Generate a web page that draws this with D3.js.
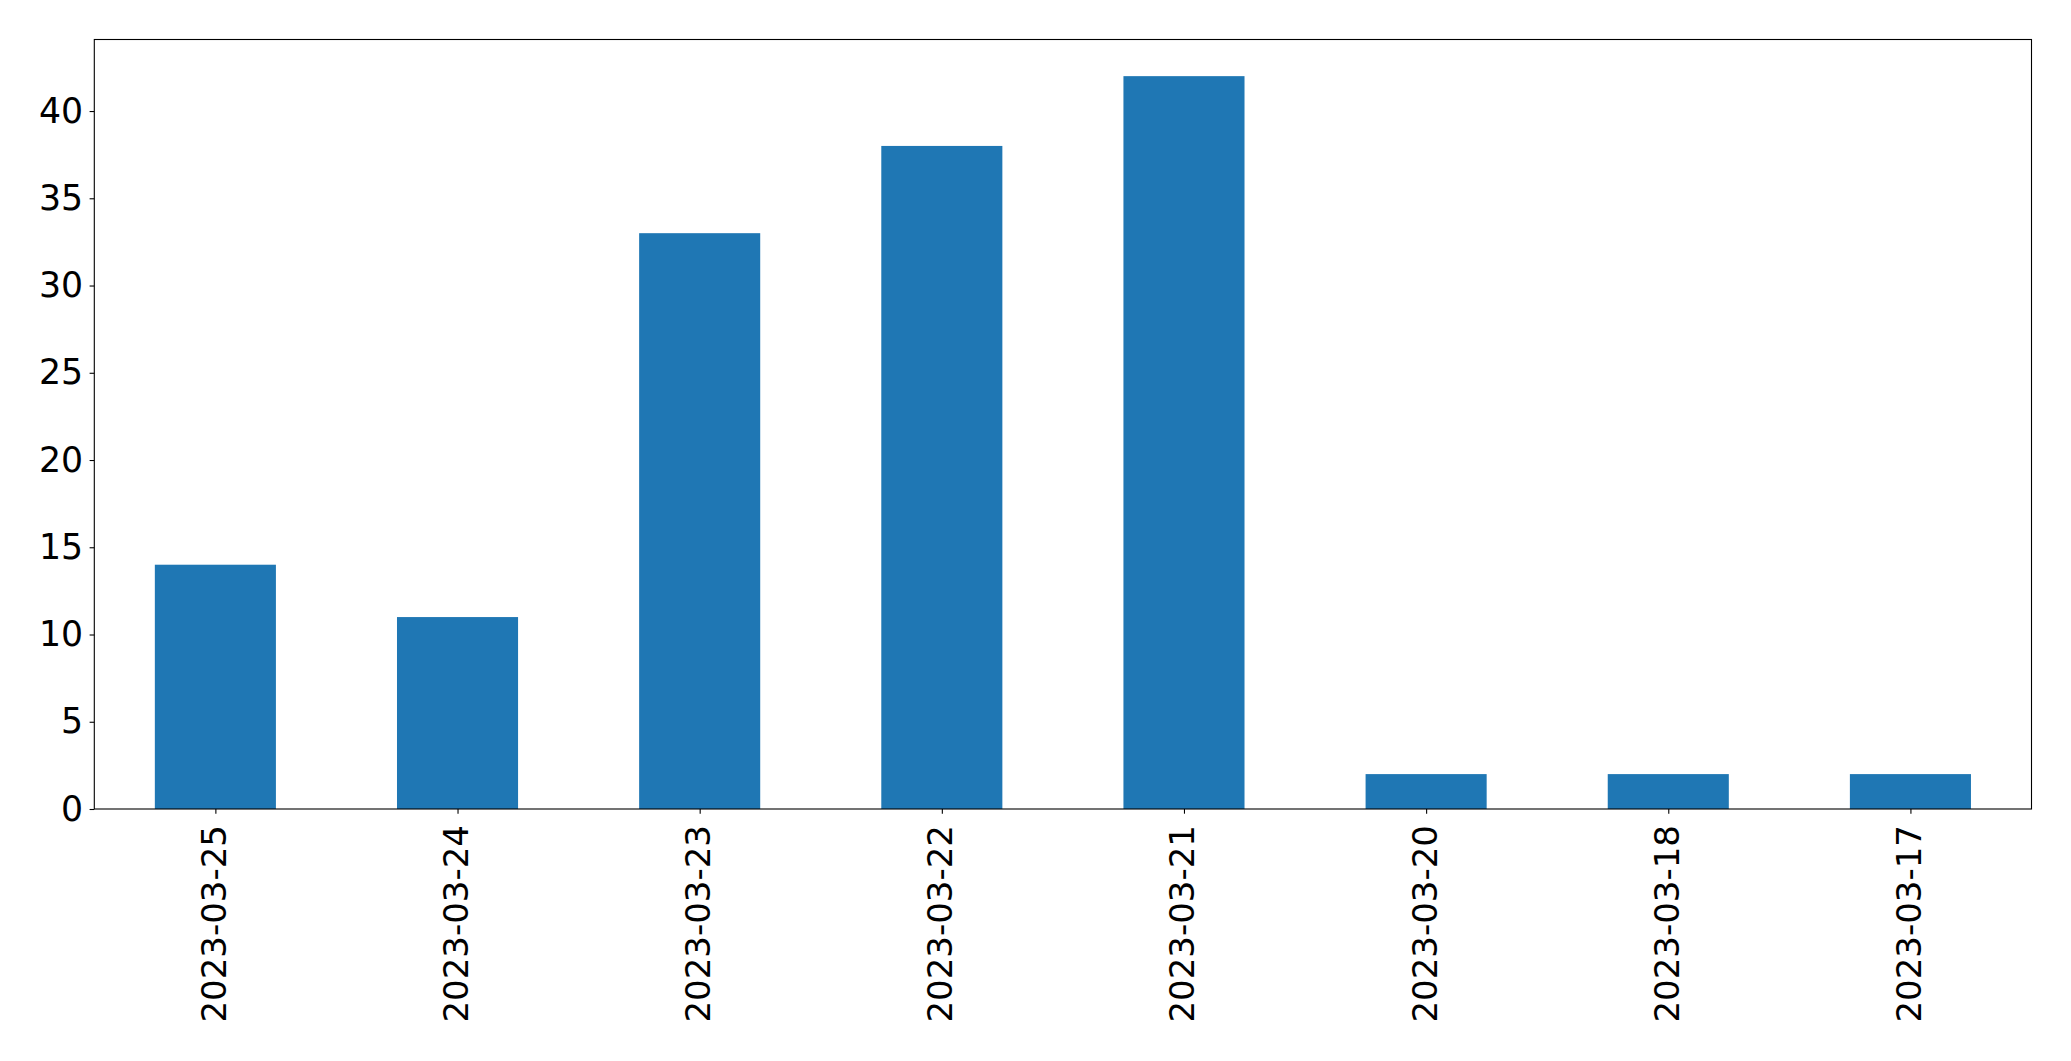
<!DOCTYPE html>
<html><head><meta charset="utf-8">
<script src="https://cdn.jsdelivr.net/npm/d3@7"></script>
<style>html,body{margin:0;padding:0;background:#fff;}svg{display:block;}</style>
</head><body>
<script>
const categories = ["2023-03-25","2023-03-24","2023-03-23","2023-03-22","2023-03-21","2023-03-20","2023-03-18","2023-03-17"];
const values = [14, 11, 33, 38, 42, 2, 2, 2];
const yTicks = [0, 5, 10, 15, 20, 25, 30, 35, 40];

const W = 2071, H = 1061;
const m = {left: 94.3, right: 2031.5, top: 39.5, bottom: 809};
const svg = d3.select("body").append("svg").attr("width", W).attr("height", H);

const x = d3.scaleLinear().domain([-0.5, categories.length - 0.5]).range([m.left, m.right]);
const y = d3.scaleLinear().domain([0, 44.1]).range([m.bottom, m.top]);
const bw = x(0.25) - x(-0.25);

svg.append("g").selectAll("rect").data(values).join("rect")
  .attr("x", (d, i) => x(i) - bw / 2)
  .attr("width", bw)
  .attr("y", d => y(d))
  .attr("height", d => y(0) - y(d))
  .attr("fill", "#1f77b4");

const font = "DejaVu Sans, sans-serif";
const fs = 34;
const yAxis = svg.append("g").attr("transform", `translate(${m.left},0)`)
  .call(d3.axisLeft(y).tickValues(yTicks).tickSize(4.7).tickPadding(6.5).tickFormat(d3.format("d")));
yAxis.select(".domain").remove();
yAxis.selectAll("line").attr("stroke", "#000").attr("stroke-width", 1.1);
yAxis.selectAll("text").attr("font-family", font).attr("font-size", 34.7).attr("fill", "#000");

const xAxis = svg.append("g").attr("transform", `translate(0,${m.bottom})`)
  .call(d3.axisBottom(x).tickValues(d3.range(categories.length)).tickSize(4.7).tickPadding(0).tickFormat(i => categories[i]));
xAxis.select(".domain").remove();
xAxis.selectAll("line").attr("stroke", "#000").attr("stroke-width", 1.1);
xAxis.selectAll("text")
  .attr("font-family", font).attr("font-size", fs).attr("fill", "#000")
  .attr("text-anchor", "end").attr("dy", null).attr("y", null)
  .attr("dominant-baseline", "central")
  .attr("transform", "translate(-2,16) rotate(-90)");

svg.append("rect").attr("x", m.left).attr("y", m.top)
  .attr("width", m.right - m.left).attr("height", m.bottom - m.top)
  .attr("fill", "none").attr("stroke", "#000").attr("stroke-width", 1.1);
</script>
</body></html>
